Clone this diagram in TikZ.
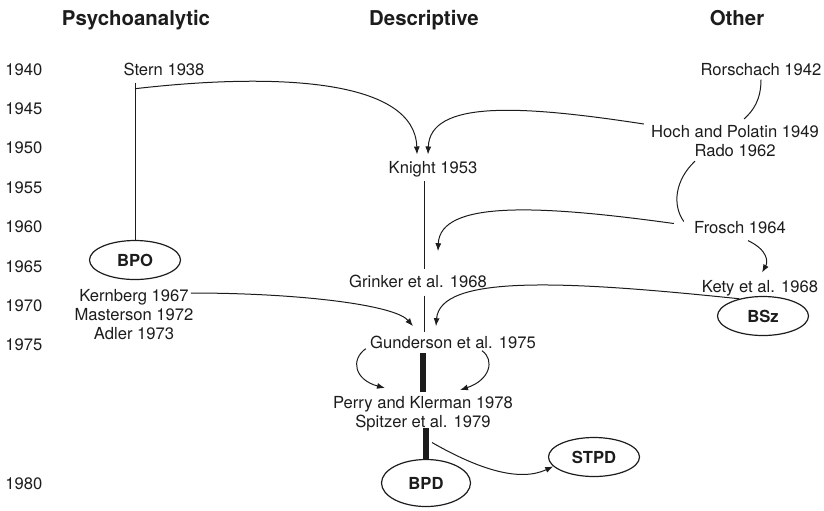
\documentclass[tikz,border=0pt]{standalone}
\usepackage{fontspec}
\setmainfont{TeX Gyre Heros}
\usepackage{tikz}
\usetikzlibrary{arrows.meta,shapes.geometric}
\definecolor{ink}{HTML}{1C1C1C}

\begin{document}
\begin{tikzpicture}[
 x=0.5pt,y=-0.5pt,
 every node/.style={font=\fontsize{8.3}{9.5}\selectfont,text=ink,inner sep=2pt},
 head/.style={font=\fontsize{10.2}{12}\selectfont\bfseries,anchor=base},
 yr/.style={anchor=base west,inner sep=0pt},
 ref/.style={anchor=base},
 refs/.style={anchor=north,align=center},
 ell/.style={draw=ink,ellipse,line width=0.6pt,inner sep=0pt,minimum width=45.5pt,minimum height=19.5pt,font=\fontsize{8.3}{9.5}\selectfont\bfseries},
 ln/.style={draw=ink,line width=0.5pt},
 arr/.style={ln,-{Latex[length=4pt,width=3pt]}},
 bar/.style={draw=ink,line width=2.6pt}
]
\useasboundingbox (0,0) rectangle (824,510);
\node[head] (hpsy) at (136,25) {Psychoanalytic};
\node[head] (hdes) at (424,25) {Descriptive};
\node[head] (hoth) at (737,25) {Other};
\node[yr] (y40) at (5,75) {1940};
\node[yr] (y45) at (5,114) {1945};
\node[yr] (y50) at (5,153) {1950};
\node[yr] (y55) at (5,193) {1955};
\node[yr] (y60) at (5,232) {1960};
\node[yr] (y65) at (5,272) {1965};
\node[yr] (y70) at (5,311) {1970};
\node[yr] (y75) at (5,350) {1975};
\node[yr] (y80) at (5,489) {1980};
\node[ref] (stern) at (164,75) {Stern 1938};
\node[ref] (rors) at (761,75) {Rorschach 1942};
\node[refs] (hoch) at (735,121) {Hoch and Polatin 1949\\Rado 1962};
\node[ref] (knight) at (433,173) {Knight 1953};
\node[ref] (frosch) at (740,233) {Frosch 1964};
\node[ref] (grinker) at (418,287) {Grinker et al. 1968};
\node[ref] (kety) at (760,292) {Kety et al. 1968};
\node[ell] (bsz) at (763,316) {BSz};
\node[ell] (bpo) at (135,260) {BPO};
\node[refs] (kern) at (134,285) {Kernberg 1967\\Masterson 1972\\Adler 1973};
\node[ref] (gund) at (453,348) {Gunderson et al. 1975};
\node[refs] (perry) at (423,392) {Perry and Klerman 1978\\Spitzer et al. 1979};
\node[ell,minimum width=44.5pt,minimum height=23.5pt] (bpd) at (426,483) {BPD};
\node[ell] (stpd) at (594,457) {STPD};
\coordinate (sfoot) at (bpo.north |- stern.south);
\draw[ln] ([yshift=-1.5pt]sfoot) -- (bpo.north);
\draw[arr] ([yshift=-4.5pt]sfoot) .. controls (280,72) and (415,80) .. ([xshift=-8pt,yshift=1pt]knight.north);
\draw[arr] ([xshift=-1.5pt,yshift=-1.5pt]hoch.north west) .. controls (520,105) and (430,100) .. ([xshift=-2.5pt,yshift=1pt]knight.north);
\draw[ln] (rors.south) .. controls (761,100) and (753,111) .. ([xshift=4.5pt,yshift=1pt]hoch.north);
\draw[ln] ([xshift=-20pt]hoch.south) .. controls (675,180) and (672,205) .. ([xshift=-3pt,yshift=-2.5pt]frosch.north west);
\draw[arr] ([xshift=-8pt,yshift=-3.5pt]frosch.north west) .. controls (540,205) and (440,200) .. ([xshift=10pt,yshift=9.5pt]grinker.north);
\draw[ln] ([xshift=-4.5pt]knight.south) -- ++(0,88);
\draw[ln] ([xshift=3pt,yshift=-2pt]grinker.south) -- ++(0,36);
\draw[arr] ([xshift=-3.5pt,yshift=-4pt]kern.north east) .. controls (300,293) and (395,305) .. ([xshift=-20pt,yshift=2.5pt]gund.north);
\draw[arr] (bsz.144) .. controls (560,280) and (440,275) .. ([xshift=-8.5pt,yshift=2.5pt]gund.north);
\draw[arr] ([xshift=4pt,yshift=-1.5pt]frosch.south) .. controls (768,250) and (768,262) .. ([xshift=1pt,yshift=1.5pt]kety.north);
\draw[arr] ([yshift=2pt]gund.south west) .. controls (350,360) and (355,380) .. ([xshift=-19pt,yshift=2pt]perry.north);
\draw[arr] ([xshift=14.5pt,yshift=1pt]gund.south) .. controls (495,360) and (490,380) .. ([xshift=18.5pt,yshift=1pt]perry.north);
\draw[bar] (perry.north) -- ++(0,-39);
\draw[bar] (bpd.north) -- ++(0,-31);
\draw[arr] ([xshift=4.5pt,yshift=-3.5pt]perry.south) .. controls (480,470) and (520,482) .. (stpd.193);
\end{tikzpicture}
\end{document}
